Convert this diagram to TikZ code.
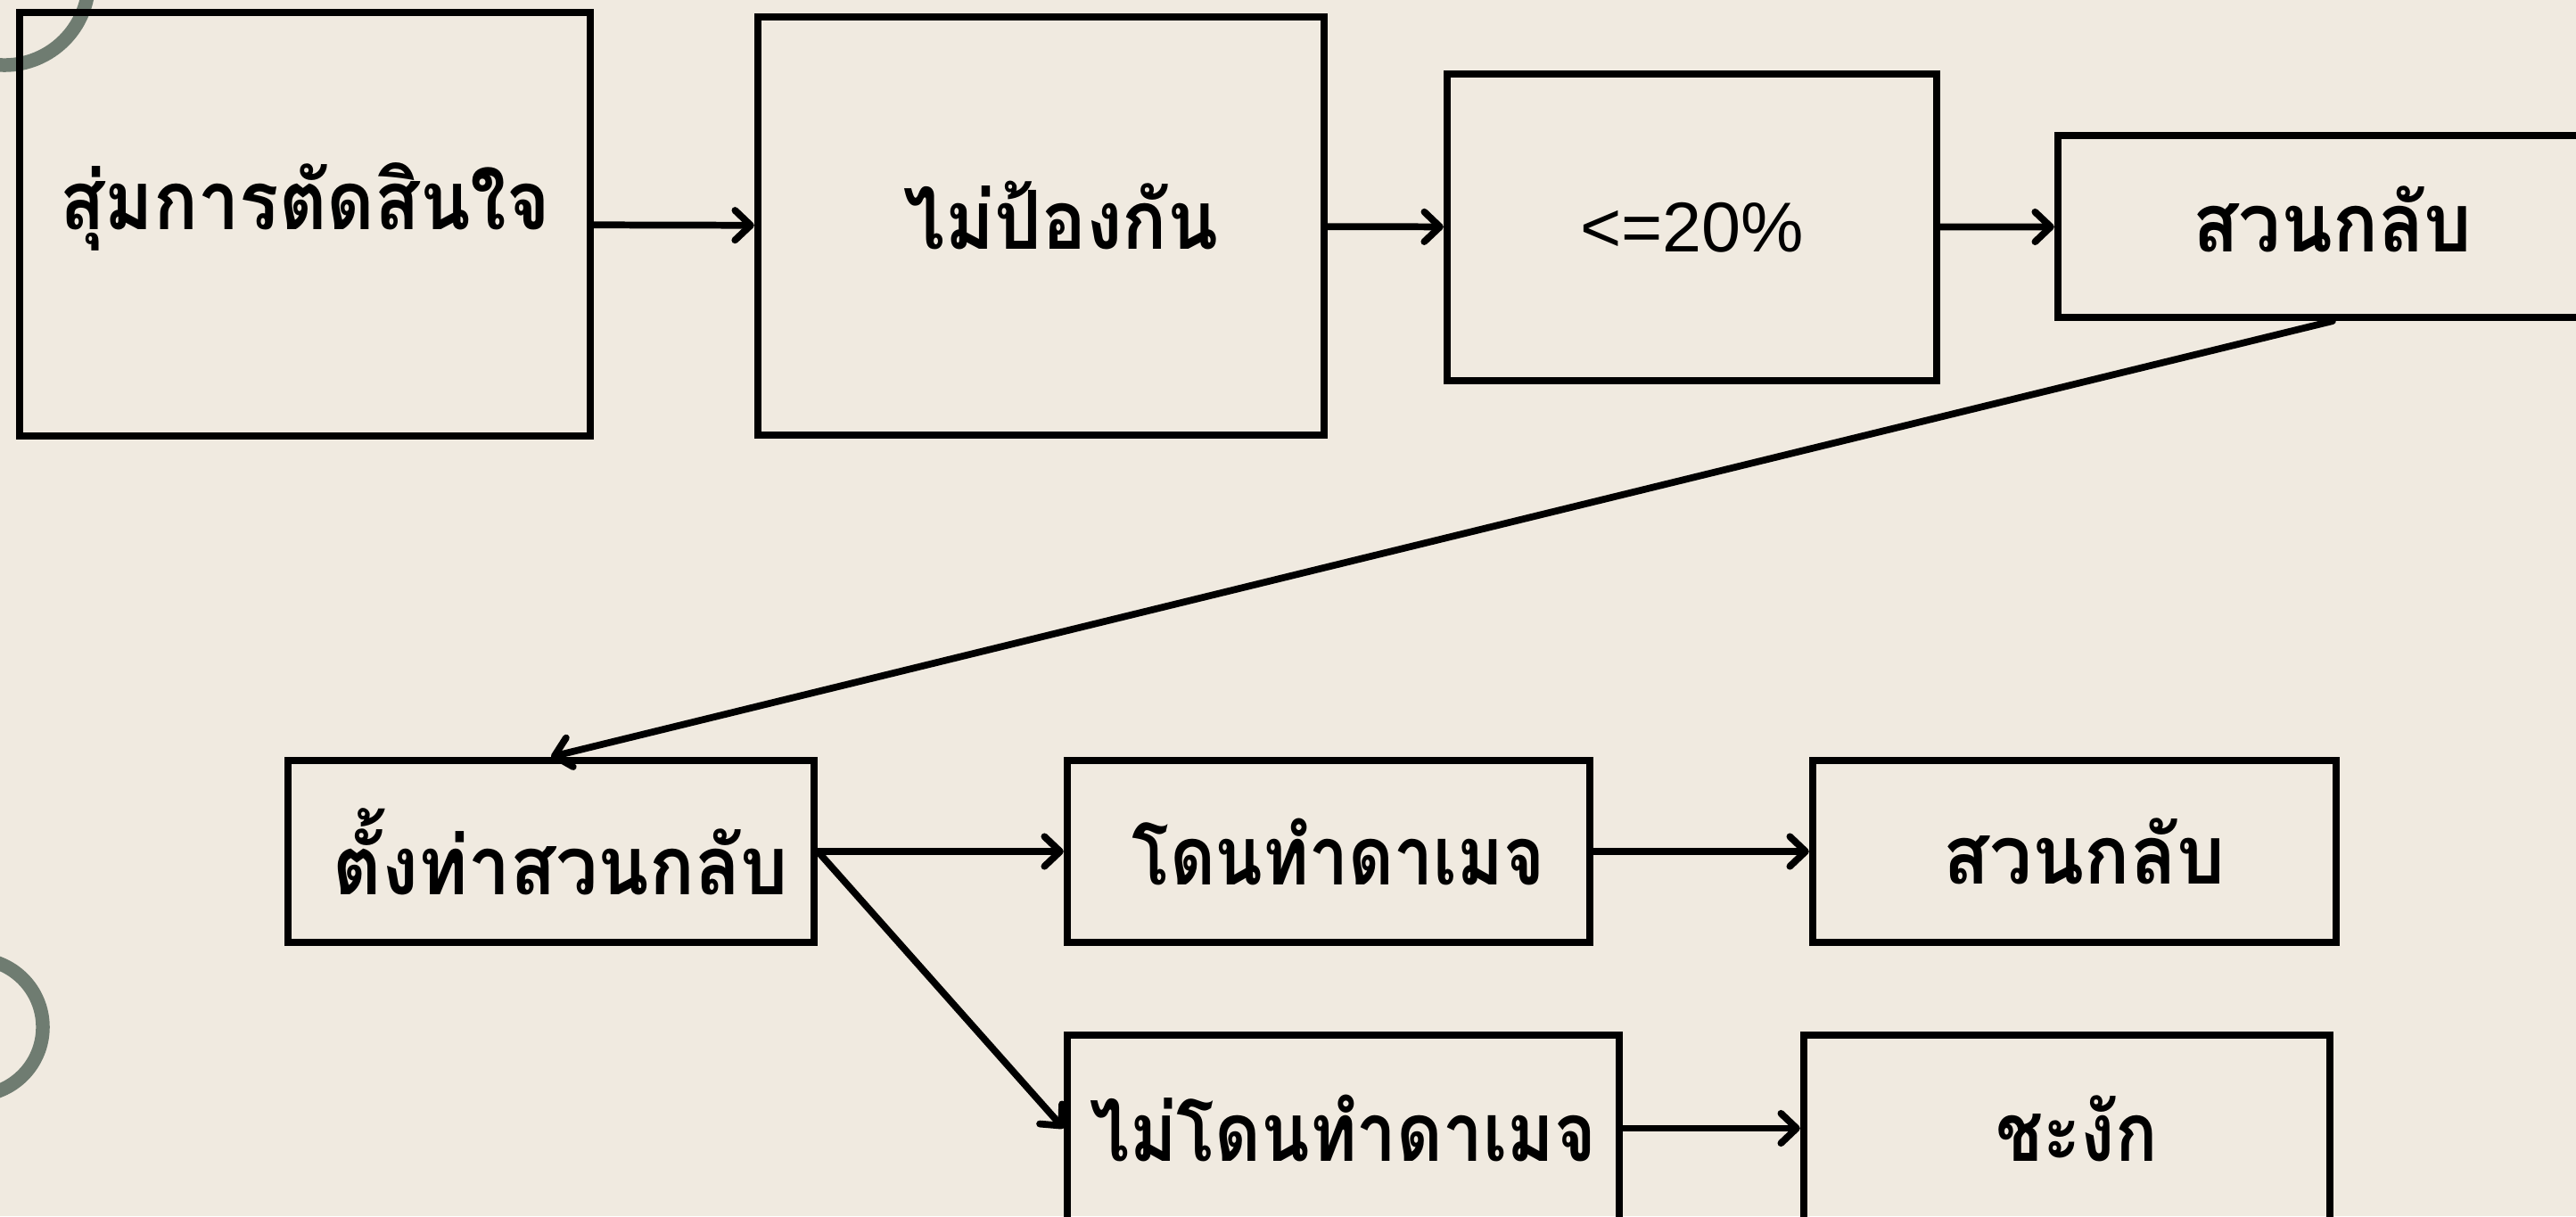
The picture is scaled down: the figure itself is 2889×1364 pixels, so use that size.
\documentclass[tikz,border=0pt]{standalone}
\usepackage{fontspec}
\setmainfont{Liberation Sans}
\newfontfamily\thaifont[Script=Thai]{Loma}
\usetikzlibrary{arrows.meta}
\definecolor{paper}{RGB}{240,234,224}
\definecolor{sage}{RGB}{111,124,113}
% stretch a label horizontally to a given width, keeping its height
\newcommand\fitw[2]{\resizebox{#1}{\height}{#2}}
% raise a label without changing the space it reserves
\newcommand\lift[2]{\raisebox{#1}[\height][\depth]{#2}}

\begin{document}
\begin{tikzpicture}[x=0.01cm,y=-0.01cm,
  box/.style={draw=black, line width=2.3pt, inner sep=0pt},
  th/.style={font=\thaifont\bfseries\fontsize{26}{30}\selectfont},
  flow/.style={line width=2.2pt, line cap=round,
    -{Straight Barb[length=5pt,width=9.5pt,round]}}]

% page
\fill[paper] (0,0) rectangle (2889,1364);
\useasboundingbox (0,0) rectangle (2889,1364);
\clip (0,0) rectangle (2889,1364);

% decorative rings at the left edge
\draw[sage, line width=4.4pt] (5,-21.5) circle[radius=0.945cm];
\draw[sage, line width=4.4pt] (-28.5,1152) circle[radius=0.765cm];

% first row
\node[box, th, minimum width=6.40cm, minimum height=4.75cm] (n1) at (342,251.5)
  {\lift{0.20cm}{\fitw{5.49cm}{สุ่มการตัดสินใจ}}};
\node[box, th, minimum width=6.35cm, minimum height=4.69cm] (n2) at (1167.5,253.5)
  {\hspace*{0.45cm}\lift{0.12cm}{\fitw{3.52cm}{ไม่ป้องกัน}}};
\node[box, font=\fontsize{22.5}{27}\selectfont, minimum width=5.49cm, minimum height=3.44cm] (n3) at (1897.5,255)
  {<=20\%};
\node[box, th, minimum width=6.16cm, minimum height=2.04cm] (n4) at (2616,254)
  {\lift{0.08cm}{\fitw{3.13cm}{สวนกลับ}}};

% second row
\node[box, th, minimum width=5.90cm, minimum height=2.04cm] (n5) at (618,955)
  {\hspace*{0.22cm}\fitw{5.10cm}{ตั้งท่าสวนกลับ}};
\node[box, th, minimum width=5.86cm, minimum height=2.04cm] (n6) at (1490,955)
  {\hspace*{0.22cm}\fitw{4.62cm}{โดนทำดาเมจ}};
\node[box, th, minimum width=5.87cm, minimum height=2.04cm] (n7) at (2326.5,955)
  {\hspace*{0.22cm}\fitw{3.15cm}{สวนกลับ}};

% third row
\node[box, th, minimum width=6.19cm, minimum height=2.09cm] (n8) at (1506.5,1265.5)
  {\fitw{5.67cm}{ไม่โดนทำดาเมจ}};
\node[box, th, minimum width=5.90cm, minimum height=2.09cm] (n9) at (2318,1265.5)
  {\hspace*{0.22cm}\fitw{1.81cm}{ชะงัก}};

% connectors
\draw[flow] (n1) -- (n2);
\draw[flow] (n2) -- (n3);
\draw[flow] (n3) -- (n4);
\draw[flow] (n4.south) -- (n5.north);
\draw[flow] (n5) -- (n6);
\draw[flow] (n6) -- (n7);
\draw[flow] (n5.east) -- (n8.west);
\draw[flow] (n8) -- (n9);
\end{tikzpicture}
\end{document}
